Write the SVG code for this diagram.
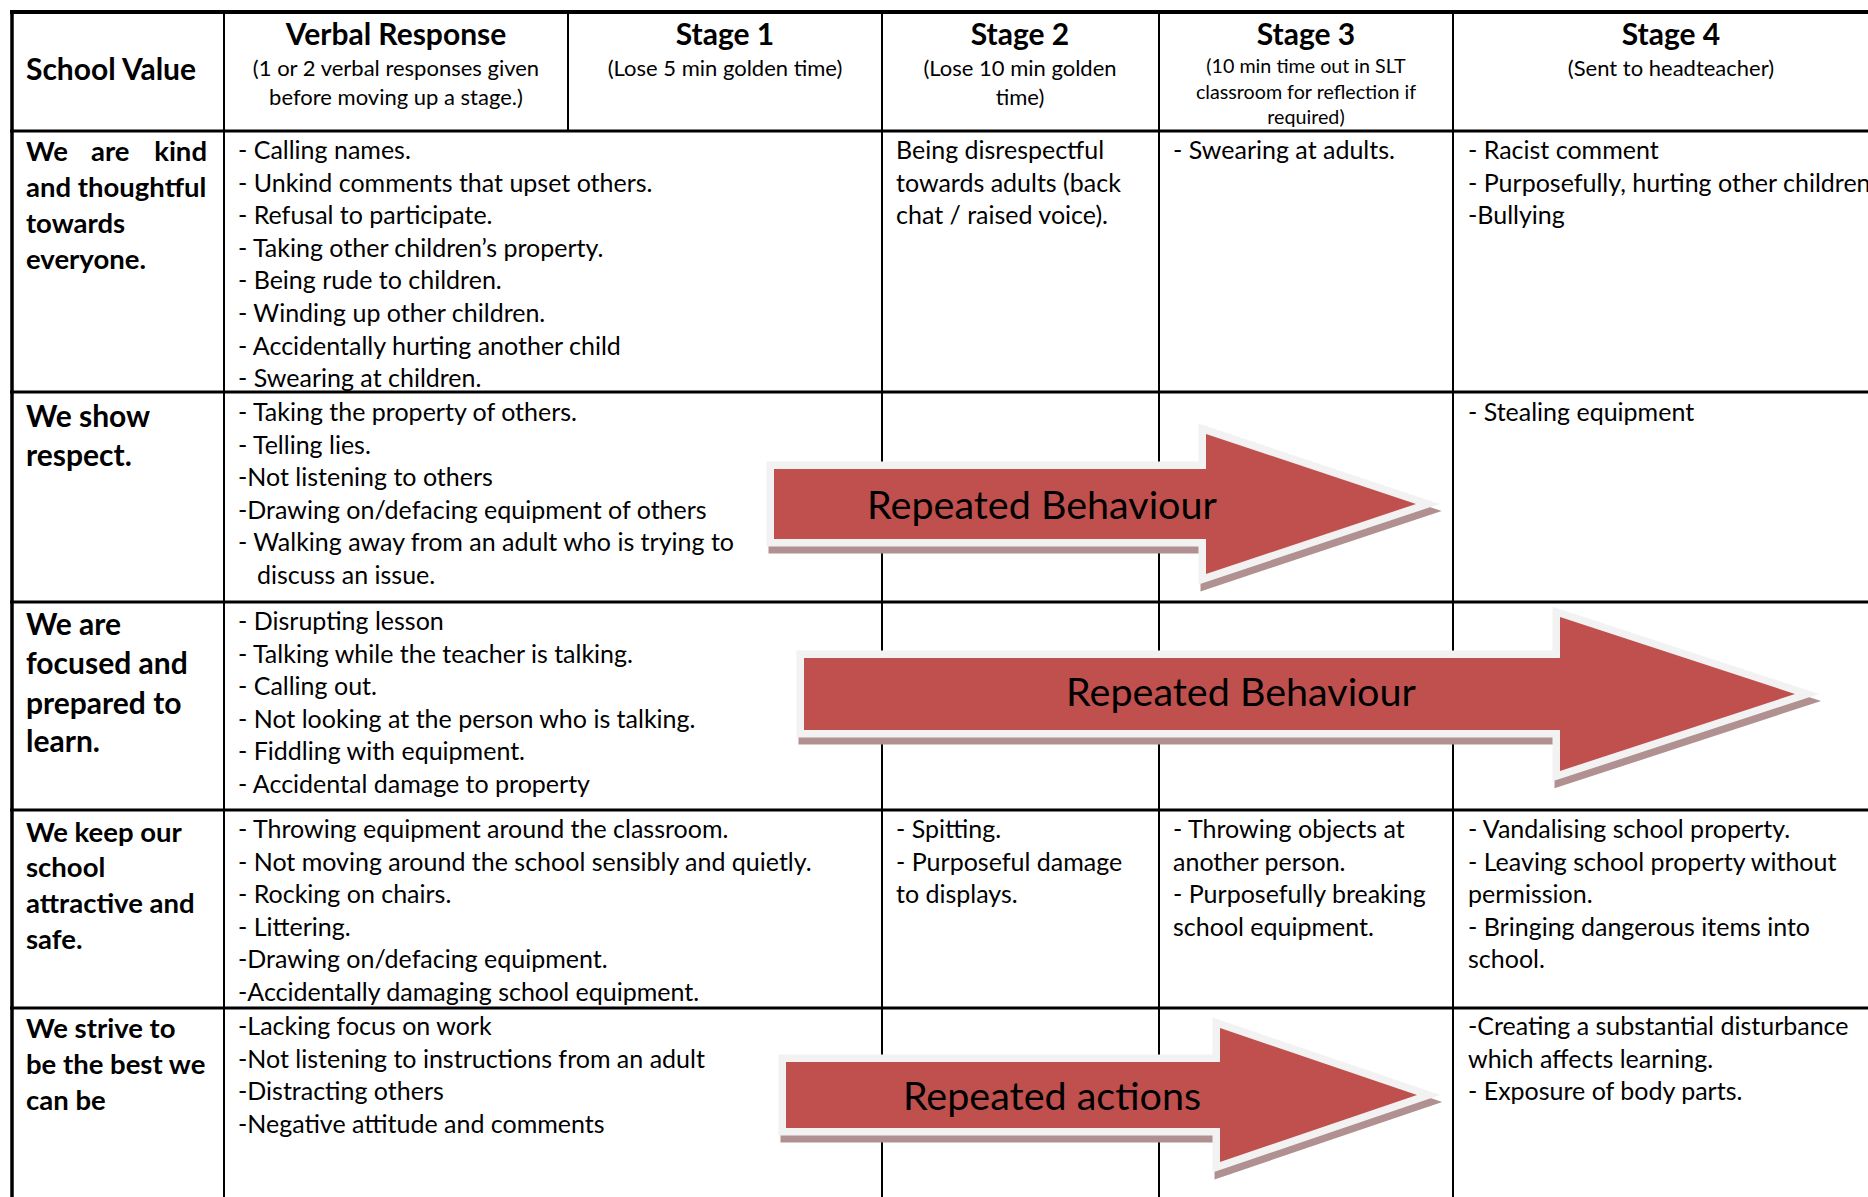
<svg xmlns="http://www.w3.org/2000/svg" width="1868" height="1197" viewBox="0 0 1868 1197">
<style>
text{font-family:Lato,"Liberation Sans",sans-serif;fill:#000}
.t{font-size:25px}
.b{font-size:27.5px;font-weight:bold}
.b2{font-size:30px;font-weight:bold}
.h{font-size:30px;font-weight:bold;text-anchor:middle}
.s{font-size:22px;text-anchor:middle}
.s3{font-size:19.7px;text-anchor:middle}
.at{font-size:39.5px}
.hl{stroke:#000;stroke-width:3}
.vl{stroke:#000;stroke-width:2}
.sh{fill:#b09090;stroke:#b09090;stroke-width:15;stroke-linejoin:miter;stroke-miterlimit:10}
.ar{fill:#c0504d;stroke:#f2f2f2;stroke-width:15;stroke-linejoin:miter;stroke-miterlimit:10;paint-order:stroke}
</style>
<rect width="1868" height="1197" fill="#fff"/>
<g id="grid">
<line class="hl" x1="10" y1="12" x2="1868" y2="12" style="stroke-width:4"/>
<line class="hl" x1="10" y1="131" x2="1868" y2="131"/>
<line class="hl" x1="10" y1="392" x2="1868" y2="392"/>
<line class="hl" x1="10" y1="602" x2="1868" y2="602"/>
<line class="hl" x1="10" y1="810" x2="1868" y2="810"/>
<line class="hl" x1="10" y1="1008" x2="1868" y2="1008"/>
<line class="vl" x1="12" y1="10" x2="12" y2="1197" style="stroke-width:3.5"/>
<line class="vl" x1="224" y1="12" x2="224" y2="1197"/>
<line class="vl" x1="568" y1="12" x2="568" y2="131"/>
<line class="vl" x1="882" y1="12" x2="882" y2="1197"/>
<line class="vl" x1="1159" y1="12" x2="1159" y2="1197"/>
<line class="vl" x1="1453" y1="12" x2="1453" y2="1197"/>
</g>
<g id="header">
<text class="b2" x="26" y="80">School Value</text>
<text class="h" x="396" y="45">Verbal Response</text>
<text class="s" x="396" y="76">(1 or 2 verbal responses given</text>
<text class="s" x="396" y="105">before moving up a stage.)</text>
<text class="h" x="725" y="45">Stage 1</text>
<text class="s" x="725" y="76">(Lose 5 min golden time)</text>
<text class="h" x="1020" y="45">Stage 2</text>
<text class="s" x="1020" y="76">(Lose 10 min golden</text>
<text class="s" x="1020" y="105">time)</text>
<text class="h" x="1306" y="45">Stage 3</text>
<text class="s3" x="1306" y="73">(10 min time out in SLT</text>
<text class="s3" x="1306" y="99">classroom for reflection if</text>
<text class="s3" x="1306" y="124">required)</text>
<text class="h" x="1671" y="45">Stage 4</text>
<text class="s" x="1671" y="76">(Sent to headteacher)</text>
</g>
<g id="row1">
<text class="b" x="26" y="161">We</text>
<text class="b" x="91" y="161">are</text>
<text class="b" x="207" y="161" text-anchor="end">kind</text>
<text class="b" x="26" y="197">and thoughtful</text>
<text class="b" x="26" y="233">towards</text>
<text class="b" x="26" y="269">everyone.</text>
<text class="t" x="238" y="159">- Calling names.</text>
<text class="t" x="238" y="191.6">- Unkind comments that upset others.</text>
<text class="t" x="238" y="224.2">- Refusal to participate.</text>
<text class="t" x="238" y="256.8">- Taking other children’s property.</text>
<text class="t" x="238" y="289.4">- Being rude to children.</text>
<text class="t" x="238" y="322">- Winding up other children.</text>
<text class="t" x="238" y="354.6">- Accidentally hurting another child</text>
<text class="t" x="238" y="387.2">- Swearing at children.</text>
<text class="t" x="896" y="159">Being disrespectful</text>
<text class="t" x="896" y="191.6">towards adults (back</text>
<text class="t" x="896" y="224.2">chat / raised voice).</text>
<text class="t" x="1173" y="159">- Swearing at adults.</text>
<text class="t" x="1468" y="159">- Racist comment</text>
<text class="t" x="1468" y="191.6">- Purposefully, hurting other children</text>
<text class="t" x="1468" y="224.2">-Bullying</text>
</g>
<g id="row2">
<text class="b2" x="26" y="427">We show</text>
<text class="b2" x="26" y="466">respect.</text>
<text class="t" x="238" y="421">- Taking the property of others.</text>
<text class="t" x="238" y="453.6">- Telling lies.</text>
<text class="t" x="238" y="486.2">-Not listening to others</text>
<text class="t" x="238" y="518.8">-Drawing on/defacing equipment of others</text>
<text class="t" x="238" y="551.4">- Walking away from an adult who is trying to</text>
<text class="t" x="257" y="584">discuss an issue.</text>
<text class="t" x="1468" y="421">- Stealing equipment</text>
</g>
<g id="row3">
<text class="b2" x="26" y="635">We are</text>
<text class="b2" x="26" y="674">focused and</text>
<text class="b2" x="26" y="714">prepared to</text>
<text class="b2" x="26" y="752">learn.</text>
<text class="t" x="238" y="630">- Disrupting lesson</text>
<text class="t" x="238" y="662.6">- Talking while the teacher is talking.</text>
<text class="t" x="238" y="695.2">- Calling out.</text>
<text class="t" x="238" y="727.8">- Not looking at the person who is talking.</text>
<text class="t" x="238" y="760.4">- Fiddling with equipment.</text>
<text class="t" x="238" y="793">- Accidental damage to property</text>
</g>
<g id="row4">
<text class="b" x="26" y="841.5">We keep our</text>
<text class="b" x="26" y="877">school</text>
<text class="b" x="26" y="913">attractive and</text>
<text class="b" x="26" y="949">safe.</text>
<text class="t" x="238" y="838">- Throwing equipment around the classroom.</text>
<text class="t" x="238" y="870.6">- Not moving around the school sensibly and quietly.</text>
<text class="t" x="238" y="903.2">- Rocking on chairs.</text>
<text class="t" x="238" y="935.8">- Littering.</text>
<text class="t" x="238" y="968.4">-Drawing on/defacing equipment.</text>
<text class="t" x="238" y="1001">-Accidentally damaging school equipment.</text>
<text class="t" x="896" y="838">- Spitting.</text>
<text class="t" x="896" y="870.6">- Purposeful damage</text>
<text class="t" x="896" y="903.2">to displays.</text>
<text class="t" x="1173" y="838">- Throwing objects at</text>
<text class="t" x="1173" y="870.6">another person.</text>
<text class="t" x="1173" y="903.2">- Purposefully breaking</text>
<text class="t" x="1173" y="935.8">school equipment.</text>
<text class="t" x="1468" y="838">- Vandalising school property.</text>
<text class="t" x="1468" y="870.6">- Leaving school property without</text>
<text class="t" x="1468" y="903.2">permission.</text>
<text class="t" x="1468" y="935.8">- Bringing dangerous items into</text>
<text class="t" x="1468" y="968.4">school.</text>
</g>
<g id="row5">
<text class="b" x="26" y="1038">We strive to</text>
<text class="b" x="26" y="1074">be the best we</text>
<text class="b" x="26" y="1110">can be</text>
<text class="t" x="238" y="1035">-Lacking focus on work</text>
<text class="t" x="238" y="1067.6">-Not listening to instructions from an adult</text>
<text class="t" x="238" y="1100.2">-Distracting others</text>
<text class="t" x="238" y="1132.8">-Negative attitude and comments</text>
<text class="t" x="1468" y="1035">-Creating a substantial disturbance</text>
<text class="t" x="1468" y="1067.6">which affects learning.</text>
<text class="t" x="1468" y="1100.2">- Exposure of body parts.</text>
</g>
<g id="arrow1">
<polygon class="sh" transform="translate(2,7)" points="774,469 1206,469 1206,434 1416,504 1206,574 1206,539 774,539"/>
<polygon class="ar" points="774,469 1206,469 1206,434 1416,504 1206,574 1206,539 774,539"/>
<text class="at" x="1042" y="519" text-anchor="middle">Repeated Behaviour</text>
</g>
<g id="arrow2">
<polygon class="sh" transform="translate(2,7)" points="804,658 1560,658 1560,617 1795,694 1560,771 1560,730 804,730"/>
<polygon class="ar" points="804,658 1560,658 1560,617 1795,694 1560,771 1560,730 804,730"/>
<text class="at" x="1241" y="706" text-anchor="middle">Repeated Behaviour</text>
</g>
<g id="arrow3">
<polygon class="sh" transform="translate(2,7)" points="786,1062 1220,1062 1220,1028 1417,1095 1220,1162 1220,1128 786,1128"/>
<polygon class="ar" points="786,1062 1220,1062 1220,1028 1417,1095 1220,1162 1220,1128 786,1128"/>
<text class="at" x="1052" y="1110" text-anchor="middle">Repeated actions</text>
</g>
</svg>
